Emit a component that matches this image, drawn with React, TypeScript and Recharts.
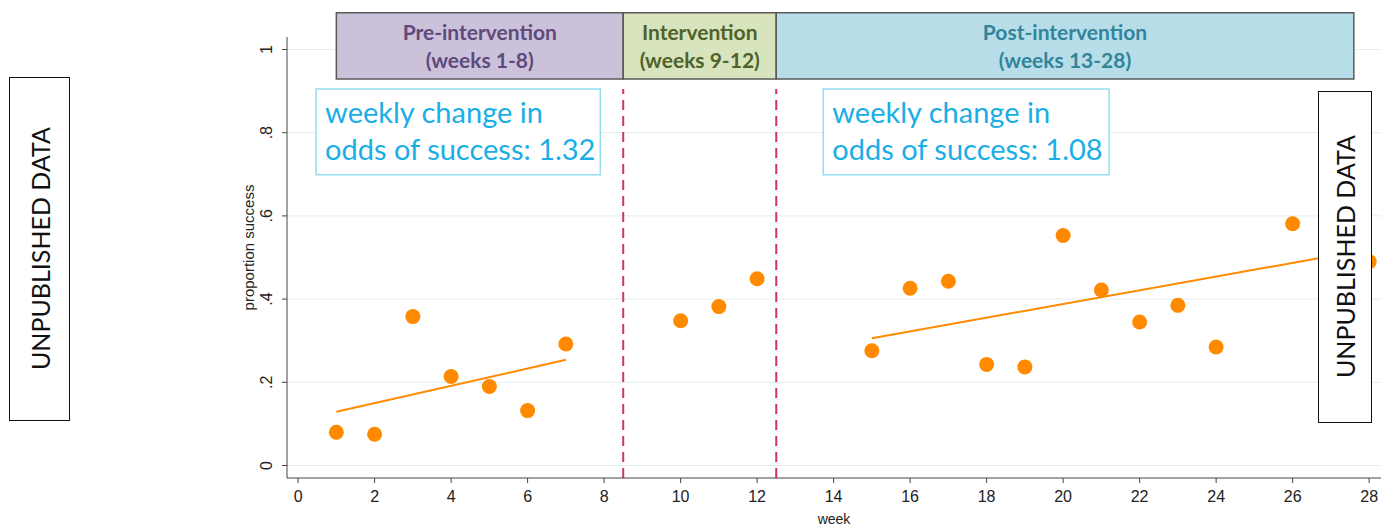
import {
  CartesianGrid,
  ComposedChart,
  ReferenceArea,
  ReferenceLine,
  Scatter,
  XAxis,
  YAxis,
} from "recharts";

// observed weekly proportions
const weeks = [1, 2, 3, 4, 5, 6, 7, 10, 11, 12, 15, 16, 17, 18, 19, 20, 21, 22, 23, 24, 26, 28];
const success = [
  0.08, 0.075, 0.358, 0.214, 0.19, 0.132, 0.292, 0.348, 0.382, 0.449, 0.276, 0.426,
  0.443, 0.243, 0.237, 0.553, 0.422, 0.345, 0.385, 0.285, 0.581, 0.49,
];

// fitted trend lines (end points)
const preFitWeeks = [1, 7];
const preFitValues = [0.129, 0.254];
const postFitWeeks = [15, 28];
const postFitValues = [0.306, 0.52];

const phaseNames = ["Pre-intervention", "Intervention", "Post-intervention"];
const phaseRanges = ["(weeks 1-8)", "(weeks 9-12)", "(weeks 13-28)"];
const phaseStart = [1, 8.5, 12.5];
const phaseEnd = [8.5, 12.5, 27.6];
const phaseFill = ["#ccc1da", "#d7e4bd", "#b7dee8"];
const phaseText = ["#604a7b", "#4f6228", "#31849b"];

const cutWeeks = [8.5, 12.5];
const oddsChange = ["1.32", "1.08"];
const oddsBoxFrom = [0.47, 13.73];
const oddsBoxTo = [7.9, 21.2];

const xTicks = [0, 2, 4, 6, 8, 10, 12, 14, 16, 18, 20, 22, 24, 26, 28];
const yTicks = [0, 0.2, 0.4, 0.6, 0.8, 1];

const points = weeks.map((week, i) => ({ week, value: success[i] }));
const preFit = preFitWeeks.map((week, i) => ({ week, value: preFitValues[i] }));
const postFit = postFitWeeks.map((week, i) => ({ week, value: postFitValues[i] }));

const ORANGE = "#ff8a00";
const AXIS = "#444";
const BOX_FONT = "Lato, 'Open Sans', sans-serif";
const TICK_FONT = "'Liberation Sans', Arial, sans-serif";

function formatY(v: number) {
  if (v === 0) return "0";
  if (v === 1) return "1";
  return String(v).replace(/^0/, "");
}

function YTick(props: any) {
  const { x, y, payload } = props;
  return (
    <text
      x={x}
      y={y}
      transform={`rotate(-90 ${x} ${y})`}
      textAnchor="middle"
      fill="#222"
      fontSize={16}
      fontFamily={TICK_FONT}
    >
      {formatY(payload.value)}
    </text>
  );
}

function PhaseLabel(name: string, range: string, color: string) {
  return (props: any) => {
    const vb = props.viewBox ?? {};
    const cx = vb.x + vb.width / 2;
    return (
      <g>
        <text x={cx} y={vb.y + 27} textAnchor="middle" fill={color} fontSize={21} fontWeight={700} fontFamily={BOX_FONT}>
          {name}
        </text>
        <text x={cx} y={vb.y + 55} textAnchor="middle" fill={color} fontSize={21} fontWeight={700} fontFamily={BOX_FONT}>
          {range}
        </text>
      </g>
    );
  };
}

function OddsLabel(value: string) {
  return (props: any) => {
    const vb = props.viewBox ?? {};
    return (
      <g>
        <text x={vb.x + 9} y={vb.y + 34} fill="#1aaee6" fontSize={29} fontFamily={BOX_FONT}>
          weekly change in
        </text>
        <text x={vb.x + 9} y={vb.y + 71} fill="#1aaee6" fontSize={29} fontFamily={BOX_FONT}>
          {`odds of success: ${value}`}
        </text>
      </g>
    );
  };
}

function YLabel(props: any) {
  const vb = props.viewBox ?? {};
  const x = 254;
  const y = vb.y + vb.height / 2 - 10;
  return (
    <text
      x={x}
      y={y}
      transform={`rotate(-90 ${x} ${y})`}
      textAnchor="middle"
      fill="#222"
      fontSize={15}
      fontFamily={TICK_FONT}
    >
      proportion success
    </text>
  );
}

function UnpublishedBox({ left, top, width, height }: { left: number; top: number; width: number; height: number }) {
  return (
    <div
      style={{
        position: "absolute",
        left,
        top,
        width,
        height,
        boxSizing: "border-box",
        border: "1.5px solid #111",
        background: "#fff",
        display: "flex",
        alignItems: "center",
        justifyContent: "center",
      }}
    >
      <span
        style={{
          writingMode: "vertical-rl",
          transform: "rotate(180deg)",
          fontFamily: BOX_FONT,
          fontSize: 25,
          color: "#111",
          whiteSpace: "nowrap",
        }}
      >
        UNPUBLISHED DATA
      </span>
    </div>
  );
}

export default function App() {
  return (
    <div style={{ position: "absolute", left: 0, top: 0, width: 1381, height: 526, background: "#fff", overflow: "hidden" }}>
      <ComposedChart width={1381} height={526} margin={{ top: 37, right: 0, bottom: 0, left: 0 }}>
        <CartesianGrid horizontal vertical={false} horizontalValues={yTicks} stroke="#e2eef0" />
        <XAxis
          type="number"
          dataKey="week"
          domain={[-0.29, 28.31]}
          ticks={xTicks}
          allowDataOverflow
          height={48}
          stroke={AXIS}
          tickSize={5}
          tickMargin={8}
          tick={{ fill: "#222", fontSize: 16, fontFamily: TICK_FONT }}
          label={{ value: "week", position: "insideBottom", offset: 2, fill: "#222", fontSize: 14, fontFamily: TICK_FONT }}
        />
        <YAxis
          type="number"
          dataKey="value"
          domain={[-0.03, 1.03]}
          ticks={yTicks}
          allowDataOverflow
          width={287}
          stroke={AXIS}
          tickSize={5}
          tickMargin={10}
          tick={<YTick />}
          label={<YLabel />}
        />
        {cutWeeks.map((w) => (
          <ReferenceLine
            key={w}
            segment={[
              { x: w, y: -0.03 },
              { x: w, y: 0.905 },
            ]}
            stroke="#d0345a"
            strokeWidth={2}
            strokeDasharray="10 6"
            ifOverflow="visible"
          />
        ))}
        {phaseNames.map((name, i) => (
          <ReferenceArea
            key={name}
            x1={phaseStart[i]}
            x2={phaseEnd[i]}
            y1={0.929}
            y2={1.088}
            fill={phaseFill[i]}
            fillOpacity={1}
            stroke="#5a5a5a"
            strokeWidth={1.5}
            ifOverflow="visible"
            label={PhaseLabel(name, phaseRanges[i], phaseText[i])}
          />
        ))}
        {oddsChange.map((v, i) => (
          <ReferenceArea
            key={v}
            x1={oddsBoxFrom[i]}
            x2={oddsBoxTo[i]}
            y1={0.699}
            y2={0.905}
            fill="#fff"
            fillOpacity={1}
            stroke="#95dcf3"
            strokeWidth={1.5}
            ifOverflow="visible"
            label={OddsLabel(v)}
          />
        ))}
        <Scatter
          data={preFit}
          dataKey="value"
          line={{ stroke: ORANGE, strokeWidth: 2 }}
          shape={() => null}
          isAnimationActive={false}
        />
        <Scatter
          data={postFit}
          dataKey="value"
          line={{ stroke: ORANGE, strokeWidth: 2 }}
          shape={() => null}
          isAnimationActive={false}
        />
        <Scatter
          data={points}
          dataKey="value"
          fill={ORANGE}
          shape={(p: any) => <circle cx={p.cx} cy={p.cy} r={7.5} fill={ORANGE} />}
          isAnimationActive={false}
        />
      </ComposedChart>
      <UnpublishedBox left={9} top={77} width={61} height={344} />
      <UnpublishedBox left={1318} top={91} width={54} height={332} />
    </div>
  );
}
